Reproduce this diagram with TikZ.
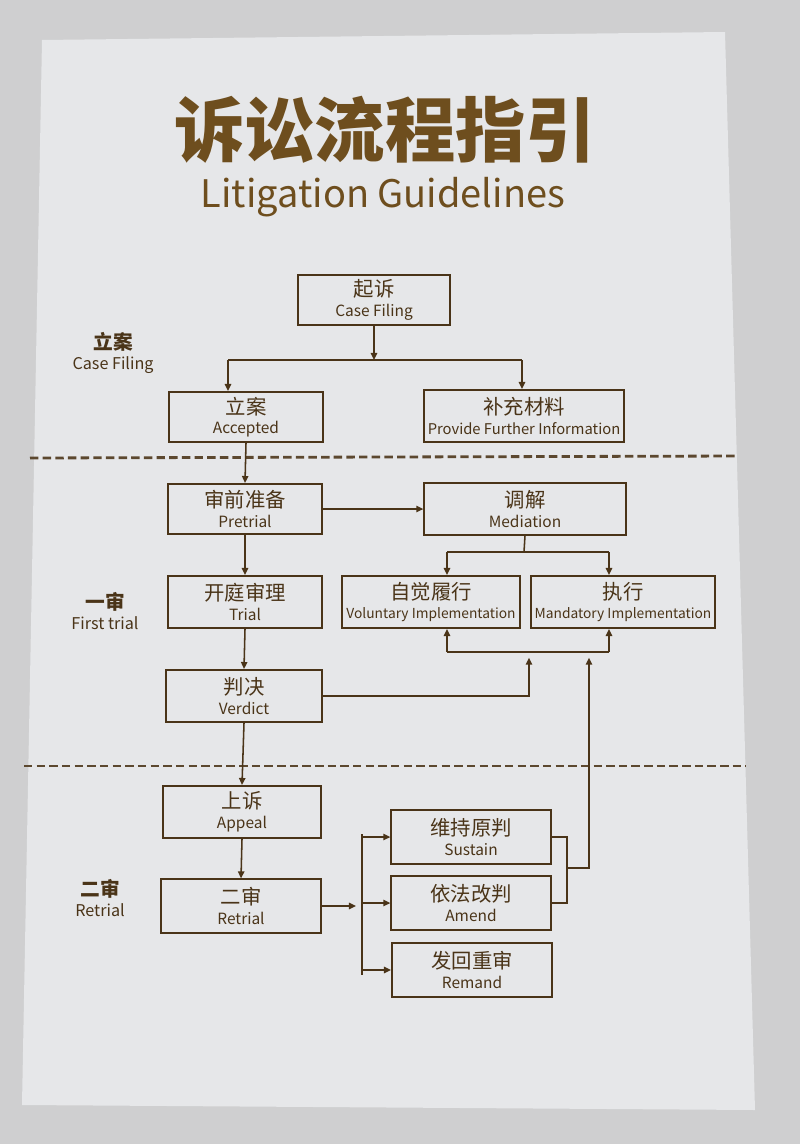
\documentclass[tikz,border=0pt]{standalone}
\usepackage{fontspec}
\setmainfont{Noto Sans CJK SC}
\usetikzlibrary{arrows.meta}
\definecolor{ink}{HTML}{4A3418}
\definecolor{gold}{HTML}{6E4E1E}
\definecolor{wall}{HTML}{CFCFD0}
\definecolor{board}{HTML}{E6E7E9}
\tikzset{
  bx/.style={draw=ink, line width=1.4pt, text=ink, align=center, inner sep=0pt, font=\fontsize{14.5}{15}\selectfont},
  ln/.style={draw=ink, line width=1.1pt},
  ar/.style={ln, -{Triangle[length=5pt,width=4.5pt]}},
  sep/.style={draw=ink!90, line width=2pt, dash pattern=on 6pt off 3pt},
  side/.style={text=ink, align=center}
}
\newcommand{\bt}[2]{#1\\[-1pt]{\fontsize{11}{12}\selectfont #2}}
\begin{document}
\begin{tikzpicture}[x=0.025cm,y=-0.025cm]
\fill[wall] (0,0) rectangle (800,1144);
\fill[board] (42,40) -- (725,32) -- (755,1110) -- (22,1105) -- cycle;
\useasboundingbox (0,0) rectangle (800,1144);
\node[text=gold, font=\fontsize{50}{52}\selectfont\bfseries] (t1) at (385,130) {诉讼流程指引};
\node[text=gold, font=\fontsize{27}{29}\selectfont] (t2) at (383,197) {Litigation Guidelines};
% boxes
\node[bx, minimum width=3.8cm, minimum height=1.25cm] (qs) at (374,300) {\bt{起诉}{Case Filing}};
\node[bx, minimum width=3.83cm, minimum height=1.25cm] (la) at (246,417) {\bt{立案}{Accepted}};
\node[bx, minimum width=4.98cm, minimum height=1.3cm] (bc) at (524,416) {\bt{补充材料}{\fontsize{10.5}{11}\selectfont Provide Further Information}};
\node[bx, minimum width=3.85cm, minimum height=1.25cm] (sq) at (245,509) {\bt{审前准备}{Pretrial}};
\node[bx, minimum width=5.03cm, minimum height=1.28cm] (tj) at (525,509) {\bt{调解}{Mediation}};
\node[bx, minimum width=3.85cm, minimum height=1.3cm] (kt) at (245,602) {\bt{开庭审理}{Trial}};
\node[bx, minimum width=4.45cm, minimum height=1.3cm] (zj) at (431,602) {\bt{自觉履行}{\fontsize{9.8}{11}\selectfont Voluntary Implementation}};
\node[bx, minimum width=4.6cm, minimum height=1.3cm] (zx) at (623,602) {\bt{执行}{\fontsize{9.8}{11}\selectfont Mandatory Implementation}};
\node[bx, minimum width=3.9cm, minimum height=1.3cm] (pj) at (244,696) {\bt{判决}{Verdict}};
\node[bx, minimum width=3.95cm, minimum height=1.3cm] (ss) at (242,812) {\bt{上诉}{Appeal}};
\node[bx, minimum width=3.98cm, minimum height=1.33cm] (es) at (241,906) {\bt{二审}{Retrial}};
\node[bx, minimum width=3.98cm, minimum height=1.33cm] (wc) at (471,837) {\bt{维持原判}{Sustain}};
\node[bx, minimum width=3.98cm, minimum height=1.33cm] (yf) at (471,903) {\bt{依法改判}{Amend}};
\node[bx, minimum width=4cm, minimum height=1.35cm] (fh) at (472,970) {\bt{发回重审}{Remand}};
% side labels
\node[side] (s1) at (113,353) {{\fontsize{14}{15}\selectfont\bfseries 立案}\\[2pt]{\fontsize{11.5}{12}\selectfont Case Filing}};
\node[side] (s2) at (105,611) {{\fontsize{14}{15}\selectfont\bfseries 一审}\\[2pt]{\fontsize{11.5}{12}\selectfont First trial}};
\node[side] (s3) at (100,898) {{\fontsize{14}{15}\selectfont\bfseries 二审}\\[2pt]{\fontsize{11.5}{12}\selectfont Retrial}};
% separators
\coordinate (d1a) at (30,458); \coordinate (d1b) at (738,456);
\coordinate (d2a) at (24,766); \coordinate (d2b) at (746,766);
\draw[sep] (d1a) -- (d1b);
\draw[sep] (d2a) -- (d2b);
% connectors
\coordinate (j1) at (374,360);
\draw[ar] (qs.south) -- (j1);
\draw[ar] (228,360) -| (la.north -| 228,0);
\draw[ln] (228,360) -- (522,360);
\draw[ar] (522,360) -- (bc.north -| 522,0);
\draw[ar] (la.south) -- (sq.north);
\draw[ar] (sq.east) -- (tj.west);
\coordinate (j2) at (524,552);
\draw[ln] (tj.south) -- (j2);
\draw[ln] (447,552) -- (609,552);
\draw[ar] (447,552) -- (zj.north -| 447,0);
\draw[ar] (609,552) -- (zx.north -| 609,0);
\draw[ar] (sq.south) -- (kt.north);
\draw[ar] (kt.south) -- (pj.north);
\coordinate (j3) at (529,652);
\draw[ln] (447,652) -- (609,652);
\draw[ar] (447,652) -- (zj.south -| 447,0);
\draw[ar] (609,652) -- (zx.south -| 609,0);
\draw[ar] (pj.east) -| ([yshift=-4pt]j3);
\draw[ar] (pj.south) -- (ss.north);
\draw[ar] (ss.south) -- (es.north);
\coordinate (j4) at (567,868);
\draw[ln] (wc.east) -| (j4) |- (yf.east);
\draw[ar] (j4) -- (589,868) -- ([yshift=-4pt]589,652);
\coordinate (j5) at (356,906);
\draw[ar] (es.east) -- (j5);
\draw[ln] (362,834) -- (362,975);
\draw[ar] (362,837) -- (wc.west);
\draw[ar] (362,903) -- (yf.west);
\draw[ar] (362,970) -- (fh.west);
\end{tikzpicture}
\end{document}
